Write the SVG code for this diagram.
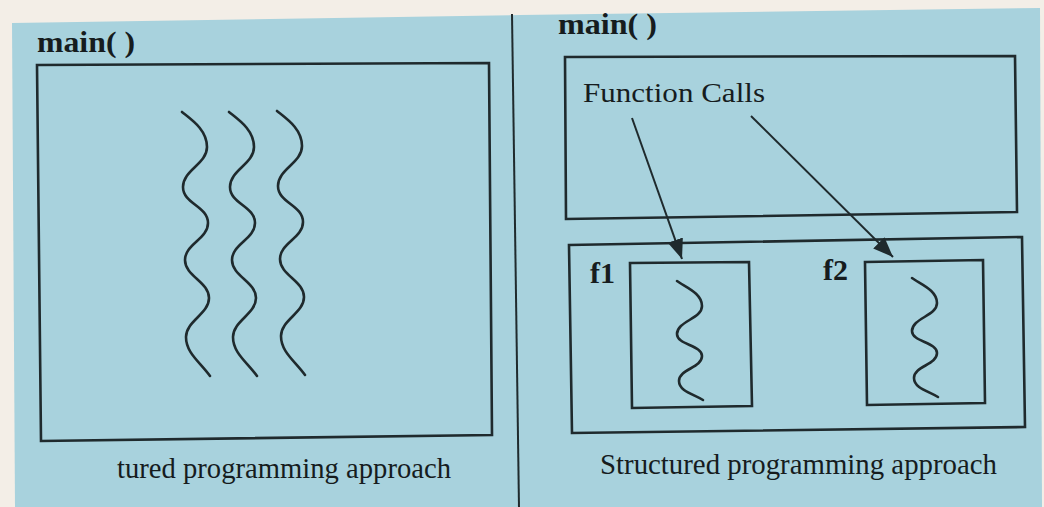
<svg xmlns="http://www.w3.org/2000/svg" xmlns:xlink="http://www.w3.org/1999/xlink" width="1044" height="507" viewBox="0 0 1044 507">
  <style>
    .box { fill: none; stroke: #1f2a2d; stroke-width: 2.6; stroke-linejoin: miter; }
    .wave { fill: none; stroke: #1f2a2d; stroke-width: 2.6; stroke-linecap: round; }
    .conn { fill: none; stroke: #1f2a2d; stroke-width: 2; }
    .title { font-family: "Liberation Serif", "Times New Roman", serif; font-weight: bold; font-size: 30px; fill: #161c1e; }
    .label { font-family: "Liberation Serif", "Times New Roman", serif; font-size: 30px; fill: #161c1e; }
  </style>
  <defs>
    <!-- long wavy statement trace of the unstructured main() -->
    <path id="longWave" d="M0,0 C10,8 25,18 25,35 C25,52 1,58 1,75 C1,92 26,94 26,111 C26,127 3,132 3,148 C3,164 27,170 27,186 C27,202 4,209 4,225 C4,241 18,250 28,264"/>
    <!-- short wavy trace inside a function body -->
    <path id="shortWave" d="M0,0 C8,6 25,12 25,25 C25,38 0,40 0,53 C0,64 25,64 25,75 C25,87 2,88 2,100 C2,110 16,113 26,119"/>
    <marker id="arrowHead" markerUnits="userSpaceOnUse" markerWidth="22" markerHeight="16" refX="20" refY="8" orient="auto">
      <path d="M0,0 L20,8 L0,16 z" fill="#1f2a2d"/>
    </marker>
  </defs>

  <!-- page background -->
  <rect x="0" y="0" width="1044" height="507" fill="#f3eee7"/>
  <polygon points="12,23 520,15 1040,8 1042,507 15,507" fill="#a8d2dd"/>

  <!-- divider between the two panels -->
  <line x1="512" y1="14" x2="519" y2="507" stroke="#1f2a2d" stroke-width="2"/>

  <!-- left panel: unstructured program -->
  <g id="left-main">
    <text class="title" x="37" y="52" textLength="98" lengthAdjust="spacingAndGlyphs">main( )</text>
    <polygon class="box" points="37,65 489,63 492,435 41,441"/>
    <use xlink:href="#longWave" class="wave" x="182" y="112"/>
    <use xlink:href="#longWave" class="wave" x="229" y="112"/>
    <use xlink:href="#longWave" class="wave" x="277" y="111"/>
    <text class="label" x="117" y="478" textLength="334" lengthAdjust="spacingAndGlyphs">tured programming approach</text>
  </g>

  <!-- right panel: structured program -->
  <g id="right-main">
    <text class="title" x="558" y="34" textLength="99" lengthAdjust="spacingAndGlyphs">main( )</text>
    <polygon class="box" points="565,57 1015,56 1017,212 566,219"/>
    <text class="label" x="583" y="102" textLength="182" lengthAdjust="spacingAndGlyphs" style="font-size:27px">Function Calls</text>
  </g>

  <g id="functions">
    <polygon class="box" points="569,245 1022,237 1025,427 572,433"/>
  </g>

  <g id="f1">
    <text class="title" x="590" y="283" textLength="25" lengthAdjust="spacingAndGlyphs">f1</text>
    <polygon class="box" points="630,263 749,262 752,406 632,408"/>
    <use xlink:href="#shortWave" class="wave" x="677" y="281"/>
  </g>

  <g id="f2">
    <text class="title" x="823" y="280" textLength="25" lengthAdjust="spacingAndGlyphs">f2</text>
    <polygon class="box" points="865,262 983,260 985,403 867,405"/>
    <use xlink:href="#shortWave" class="wave" x="912" y="278"/>
  </g>

  <g id="right-caption">
    <text class="label" x="600" y="474" textLength="397" lengthAdjust="spacingAndGlyphs">Structured programming approach</text>
  </g>

  <!-- calls from main() into f1 and f2 -->
  <g id="connectors">
    <line class="conn" x1="632" y1="118" x2="682" y2="259" marker-end="url(#arrowHead)"/>
    <line class="conn" x1="751" y1="116" x2="893" y2="257" marker-end="url(#arrowHead)"/>
  </g>
</svg>
